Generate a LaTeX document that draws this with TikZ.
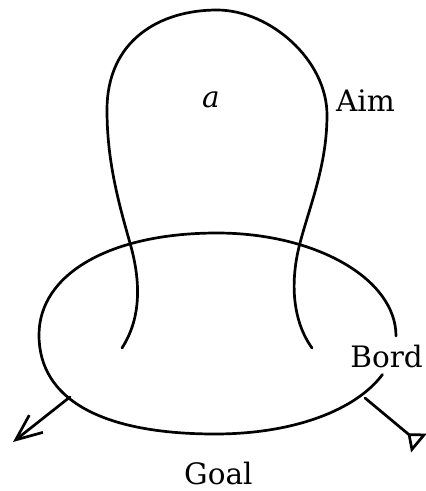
\documentclass[tikz,border=0pt]{standalone}
\usepackage{fontspec}
\setmainfont{DejaVu Serif}
\usetikzlibrary{arrows.meta}
\begin{document}
\begin{tikzpicture}[x=1pt,y=-1pt,
  curve/.style={line width=2.7pt, line cap=round, line join=round},
  lbl/.style={font=\fontsize{29.5}{34}\selectfont, inner sep=0pt}]
\useasboundingbox (0,0) rectangle (426,491);
% Aim loop
\draw[curve] (122,348) .. controls (140,320) and (142,285) .. (130,243)
  .. controls (118,201) and (107,160) .. (107,110)
  .. controls (107,40) and (160,10) .. (217,10)
  .. controls (270,10) and (327,60) .. (327,115)
  .. controls (327,165) and (310,205) .. (300,243)
  .. controls (290,281) and (292,320) .. (312,348);
% Bord (open ellipse)
\draw[curve] (382.5,374.5) .. controls (356,410) and (294,434) .. (215,434)
  .. controls (101,434) and (39,399) .. (39,335)
  .. controls (39,274) and (110,233) .. (217,233)
  .. controls (316,233) and (396,279) .. (396,336);
% connectors
\coordinate (L0) at (70,397);
\coordinate (L1) at (13,442);
\coordinate (R0) at (365,398);
\coordinate (R1) at (419,443);
\draw[curve, -{Straight Barb[length=26pt,width=22pt]}] (L0) -- (L1);
\draw[curve, -{Triangle[open,reversed,length=15pt,width=24pt]}] (R0) -- (R1);
% labels
\node[lbl, anchor=base] (a) at (211,107) {\itshape a};
\node[lbl, anchor=base west] (aim) at (336,111) {Aim};
\node[lbl, anchor=base east] (bord) at (423,367) {Bord};
\node[lbl, anchor=base west] (goal) at (184,484) {Goal};
\end{tikzpicture}
\end{document}
